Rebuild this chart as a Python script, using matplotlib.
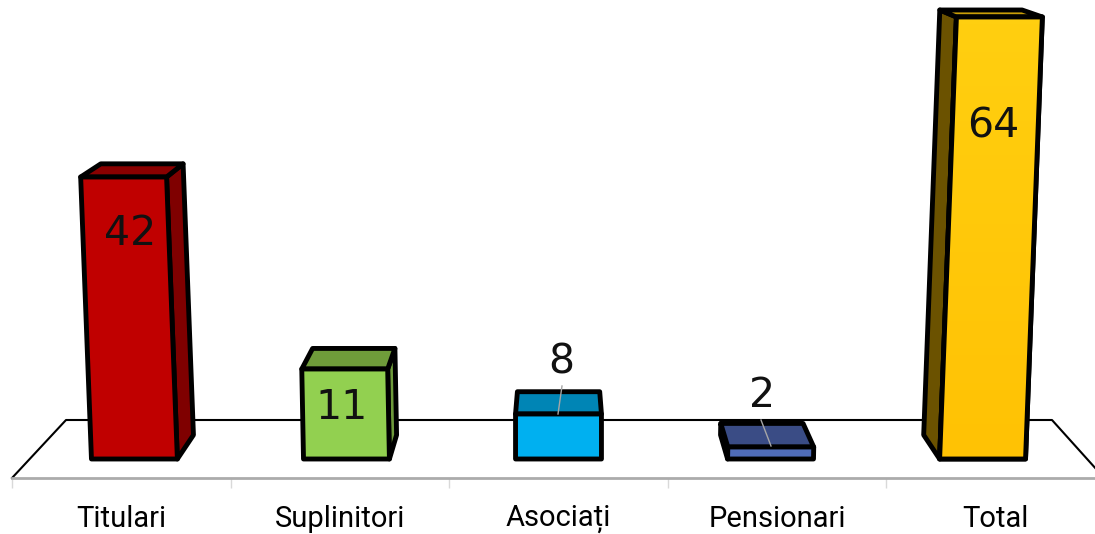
"""Staff counts as a 3D-looking bar chart on a perspective floor."""
import matplotlib
matplotlib.use('Agg')
import matplotlib.pyplot as plt
import numpy as np
from matplotlib.image import BboxImage
from matplotlib.patches import Polygon
from matplotlib.transforms import Bbox, IdentityTransform

categories = ['Titulari', 'Suplinitori', 'Asociați', 'Pensionari', 'Total']
values = [42, 11, 8, 2, 64]

front_colors = ['#C00000', '#92D050', '#00B0F0', '#4F6CB8', '#FFC90B']
top_colors = ['#8A0000', '#6F9C3A', '#0085B5', '#3A4C85', '#C99E08']
side_colors = ['#7F0000', '#6E9A3B', '#0085B5', '#2F3F72', '#6B5200']

# the drawing is not linear in its values, so the y scale is calibrated to it
SCALE_VALUES = [-3, 0, 2, 8, 11, 42, 64]
SCALE_PIXELS = [-19, 0, 12, 45, 90, 282, 442]

W, H = 1095, 534
VP_X, VP_Y = 560, H + 165   # vanishing point of the depth edges
DEPTH_X, DEPTH_Y = 0.042, 0.0385
LEAN = 9e-5                 # tall bars lean away from the middle
BAR_W = 0.393
SPREAD = 0.97               # bars sit a bit closer together than the categories


def forward(v):
    return np.interp(v, SCALE_VALUES, SCALE_PIXELS)


def inverse(p):
    return np.interp(p, SCALE_PIXELS, SCALE_VALUES)


def px(x, y):
    """Picture coordinates (y down) to display coordinates."""
    return x, H - y


def back(pt):
    return pt[0] + DEPTH_X * (VP_X - pt[0]), pt[1] + DEPTH_Y * (VP_Y - pt[1])


def face(ax, pts, color, z):
    patch = Polygon(pts, closed=True, facecolor=color, edgecolor='black',
                    linewidth=3.5, joinstyle='round',
                    transform=IdentityTransform(), clip_on=False, zorder=z)
    ax.add_patch(patch)
    return patch


def shade_face(ax, pts, z):
    """Soft vertical gradient clipped to a front face."""
    xs, ys = zip(*pts)
    grad = np.ones((64, 2, 3))
    grad[:, :, 1] = np.linspace(0xCF, 0xC2, 64)[:, None] / 255
    grad[:, :, 2] = np.linspace(0x10, 0x04, 64)[:, None] / 255
    im = BboxImage(Bbox.from_extents(min(xs), min(ys), max(xs), max(ys)),
                   origin='upper', zorder=z)
    im.set_data(grad)
    ax.add_artist(im)
    im.set_clip_path(Polygon(pts, closed=True, transform=IdentityTransform()))


fig = plt.figure(figsize=(W / 100, H / 100), dpi=100)
plt.rcParams['font.family'] = ['Roboto', 'DejaVu Sans']
ax = fig.add_axes([12 / W, (H - 478) / H, 1093 / W, 461 / H])
ax.patch.set_alpha(0)
ax.set_yscale('function', functions=(forward, inverse))
ax.set_xlim(-0.5, 4.5)
ax.set_ylim(-3, 64)

ax.yaxis.set_visible(False)
for name in ['top', 'left', 'right']:
    ax.spines[name].set_visible(False)
ax.spines['bottom'].set_color('#ABABAB')
ax.spines['bottom'].set_linewidth(2)

ax.set_xticks(range(len(categories)))
ax.set_xticklabels(categories, fontsize=21, color='black')
ax.tick_params(axis='x', which='major', length=0, pad=19.5)
ax.set_xticks(np.arange(-0.5, 4.6, 1), minor=True)
ax.tick_params(axis='x', which='minor', length=7, width=1, color='#D9D9D9')

# floor
floor = [px(12, 478), px(66, 420), px(1052, 420), px(1097, 470)]
ax.plot(*zip(*floor), color='black', linewidth=1.5, transform=IdentityTransform(),
        clip_on=False, zorder=1)

# value label positions relative to the top of each front face, in pixels
label_dx = [7, -3, 3, -9, -6]
label_dy = [57, 39, -52, -51, 110]

for i, (val, fc, tc, sc) in enumerate(zip(values, front_colors, top_colors, side_colors)):
    xc = 2 + (i - 2) * SPREAD
    bl = ax.transData.transform((xc - BAR_W / 2, 0))
    br = ax.transData.transform((xc + BAR_W / 2, 0))
    tl = ax.transData.transform((xc - BAR_W / 2, val))
    tr = ax.transData.transform((xc + BAR_W / 2, val))

    centre = (bl[0] + br[0]) / 2
    shift = (tl[1] - bl[1]) * (centre - VP_X) * LEAN
    tl = (tl[0] + shift, tl[1])
    tr = (tr[0] + shift, tr[1])
    bl, br = tuple(bl), tuple(br)

    z = 2 + i
    if back(tl)[0] < tl[0]:
        face(ax, [bl, tl, back(tl), back(bl)], sc, z)
    if back(tr)[0] > tr[0]:
        face(ax, [br, tr, back(tr), back(br)], sc, z)
    face(ax, [tl, tr, back(tr), back(tl)], tc, z)
    if categories[i] == 'Total':
        face(ax, [bl, br, tr, tl], fc, z)
        shade_face(ax, [bl, br, tr, tl], z + 0.1)
        face(ax, [bl, br, tr, tl], 'none', z + 0.2)
    else:
        face(ax, [bl, br, tr, tl], fc, z)

    lx = (tl[0] + tr[0]) / 2 + label_dx[i]
    ly = tl[1] - label_dy[i]
    ax.text(lx, ly, str(val), transform=IdentityTransform(), ha='center', va='center',
            fontsize=29.5, family='DejaVu Sans', color='#111111', zorder=20)

# leader lines of the two labels that sit above their bars
for x0, y0, x1, y1 in [(562, 386, 558, 414), (761, 420, 771, 446)]:
    ax.plot(*zip(px(x0, y0), px(x1, y1)), color='#A6A6A6', linewidth=1,
            transform=IdentityTransform(), clip_on=False, zorder=19)

fig.savefig('out.png', dpi=100)
